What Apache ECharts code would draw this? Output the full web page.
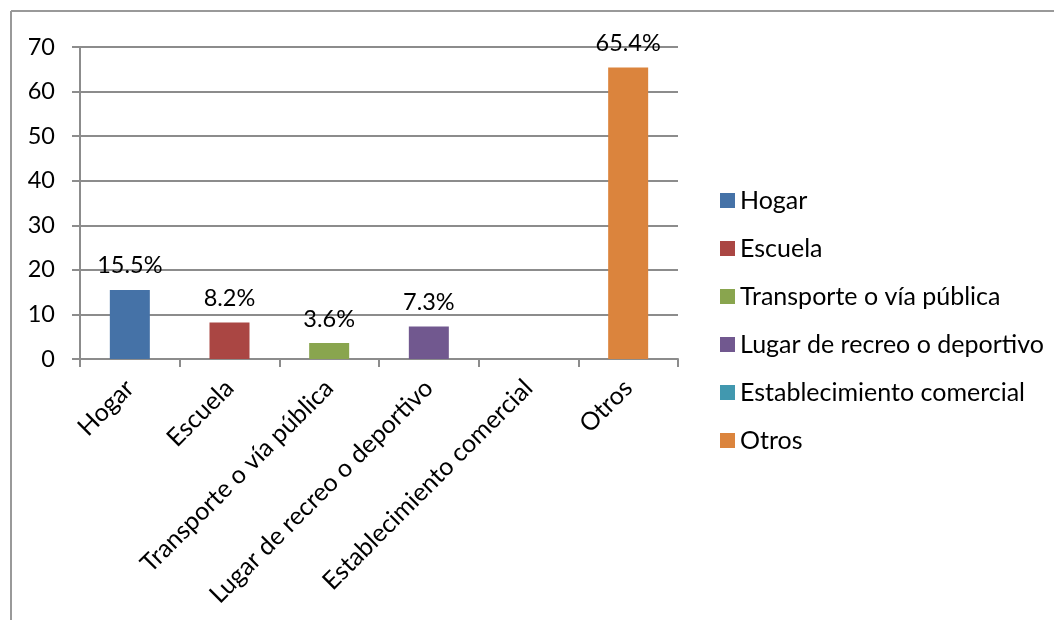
<!DOCTYPE html>
<html>
<head>
<meta charset="utf-8">
<script src="https://cdn.jsdelivr.net/npm/echarts@6/dist/echarts.min.js"></script>
<style>html,body{margin:0;padding:0;background:#fff}#c{width:1054px;height:620px}</style>
</head>
<body>
<div id="c"></div>
<script>
const categories = ['Hogar', 'Escuela', 'Transporte o vía pública', 'Lugar de recreo o deportivo', 'Establecimiento comercial', 'Otros'];
const values = [15.5, 8.2, 3.6, 7.3, 0, 65.4];
const colors = ['#4572A7', '#AA4643', '#89A54E', '#71588F', '#4198AF', '#DB843D'];
const yTicks = [0, 10, 20, 30, 40, 50, 60, 70];

const FONT = 'Lato';
const FS = 23.5;
const FS2 = 25;
const series = categories.map((name, i) => ({
  name: name,
  type: 'bar',
  stack: 'all',
  barWidth: 40,
  itemStyle: { color: colors[i] },
  label: {
    show: true,
    position: 'top',
    distance: 12,
    fontFamily: FONT,
    fontSize: FS,
    color: '#000',
    formatter: p => (p.value > 0 ? p.value.toFixed(1) + '%' : '')
  },
  data: categories.map((c, j) => (j === i ? values[i] : '-'))
}));

const chart = echarts.init(document.getElementById('c'), null, { renderer: 'canvas' });
chart.setOption({
  animation: false,
  textStyle: { fontFamily: FONT },
  graphic: [
    { type: 'line', shape: { x1: 11, y1: 11, x2: 1054, y2: 11 }, style: { stroke: '#999', lineWidth: 2 } },
    { type: 'line', shape: { x1: 11, y1: 11, x2: 11, y2: 620 }, style: { stroke: '#999', lineWidth: 2 } }
  ],
  grid: { left: 80, right: 376, top: 47, bottom: 261, containLabel: false },
  legend: {
    orient: 'vertical',
    left: 715,
    top: 183,
    itemWidth: 15,
    itemHeight: 15,
    itemGap: 23,
    icon: 'rect',
    textStyle: { fontFamily: FONT, fontSize: FS2, color: '#000' },
    data: categories
  },
  xAxis: {
    type: 'category',
    data: categories,
    axisLine: { lineStyle: { color: '#8c8c8c', width: 2 } },
    axisTick: { show: true, length: 8, alignWithLabel: false, lineStyle: { color: '#8c8c8c', width: 2 } },
    axisLabel: { rotate: 45, margin: 25, fontFamily: FONT, fontSize: FS2, color: '#000', interval: 0 }
  },
  yAxis: {
    type: 'value',
    min: 0,
    max: 70,
    interval: 10,
    axisLine: { show: true, lineStyle: { color: '#8c8c8c', width: 2 } },
    axisTick: { show: true, length: 8, lineStyle: { color: '#8c8c8c', width: 2 } },
    splitLine: { show: true, lineStyle: { color: '#8c8c8c', width: 2 } },
    axisLabel: { margin: 25, fontFamily: FONT, fontSize: FS, color: '#000',
      formatter: v => (yTicks.includes(v) ? String(v) : '') }
  },
  series: series
});
</script>
</body>
</html>
